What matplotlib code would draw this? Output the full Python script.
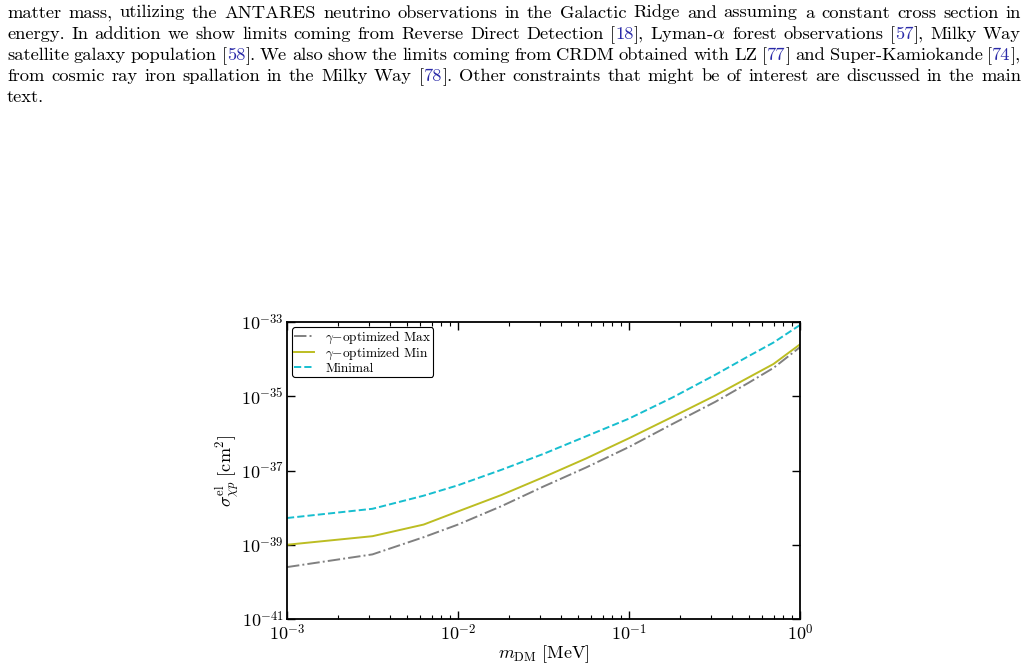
import matplotlib
matplotlib.use('Agg')
import matplotlib.pyplot as plt
from matplotlib.ticker import FixedLocator, FuncFormatter, LogLocator, NullLocator
import numpy as np

plt.rcParams['mathtext.fontset'] = 'cm'
plt.rcParams['font.family'] = ['cmr10', 'DejaVu Serif']
plt.rcParams['axes.unicode_minus'] = False

# ---------------- data ----------------
m_dm = [1e-3, 3.16e-3, 6.3e-3, 1e-2, 1.8e-2, 3.16e-2, 5.6e-2, 0.1, 0.18, 0.32, 0.5, 0.7, 1.0]
sigma_gamma_max = [2.5e-40, 5.5e-40, 1.6e-39, 3.5e-39, 1.1e-38, 3.7e-38, 1.2e-37,
                   4.3e-37, 1.8e-36, 7.1e-36, 2.3e-35, 5.8e-35, 2.1e-34]
sigma_gamma_min = [1.0e-39, 1.7e-39, 3.5e-39, 7.9e-39, 2.2e-38, 6.6e-38, 2.1e-37,
                   7.4e-37, 2.8e-36, 1.05e-35, 3.2e-35, 7.4e-35, 2.5e-34]
sigma_minimal = [5.25e-39, 9.3e-39, 2.1e-38, 4.0e-38, 1.05e-37, 2.8e-37, 8.3e-37,
                 2.5e-36, 9.3e-36, 3.8e-35, 1.2e-34, 2.8e-34, 8.3e-34]
series_labels = [r'$\gamma{-}$optimized Max', r'$\gamma{-}$optimized Min', 'Minimal']
series_colors = ['#808080', '#bcbd22', '#17becf']
series_styles = ['-.', '-', '--']

y_ticks = [1e-41, 1e-39, 1e-37, 1e-35, 1e-33]
x_ticks = [1e-3, 1e-2, 1e-1, 1e0]

caption_lines = [
    [("matter mass, utilizing the ANTARES neutrino observations in the Galactic Ridge and assuming a constant cross section in", 'k')],
    [("energy. In addition we show limits coming from Reverse Direct Detection [", 'k'), ("18", 'b'), ("], Lyman-$\\alpha$ forest observations [", 'k'), ("57", 'b'), ("], Milky Way", 'k')],
    [("satellite galaxy population [", 'k'), ("58", 'b'), ("]. We also show the limits coming from CRDM obtained with LZ [", 'k'), ("77", 'b'), ("] and Super-Kamiokande [", 'k'), ("74", 'b'), ("],", 'k')],
    [("from cosmic ray iron spallation in the Milky Way [", 'k'), ("78", 'b'), ("]. Other constraints that might be of interest are discussed in the main", 'k')],
    [("text.", 'k')],
]

W, H = 1027, 669
fig = plt.figure(figsize=(W / 100, H / 100), dpi=100)
fig.patch.set_facecolor('white')

# ---------------- caption (justified) ----------------
blue = '#2a2aa8'
def split_words(segments):
    words = [[]]
    for txt, col in segments:
        parts = txt.split(' ')
        for i, p in enumerate(parts):
            if i > 0:
                words.append([])
            if p:
                words[-1].append((p, col))
    return [w for w in words if w]

renderer = fig.canvas.get_renderer()
left_px, right_px = 7, 1021
baselines = [17.5, 39, 60.2, 81.3, 102.3]
cap_size = 13.3
for li, segs in enumerate(caption_lines):
    words = split_words(segs)
    objs = []
    widths = []
    for w in words:
        wobjs = []
        ww = 0
        for txt, col in w:
            t = fig.text(0, 0, txt, fontsize=cap_size, color=(blue if col == 'b' else 'black'),
                         va='baseline', ha='left', family=['cmr10', 'DejaVu Serif'])
            bb = t.get_window_extent(renderer)
            wobjs.append((t, bb.width))
            ww += bb.width
        objs.append(wobjs)
        widths.append(ww)
    last = (li == len(caption_lines) - 1)
    if last or len(words) < 2:
        gap = 6
    else:
        gap = (right_px - left_px - sum(widths)) / (len(words) - 1)
    x = left_px
    ypix = H - baselines[li]
    for wobjs, ww in zip(objs, widths):
        xx = x
        for t, tw in wobjs:
            t.set_position((xx / W, ypix / H))
            xx += tw
        x += ww + gap

# ---------------- plot ----------------
ax = fig.add_axes([287 / W, 1 - 619 / H, 513 / W, 297 / H])
for ys, lab, col, ls in zip([sigma_gamma_max, sigma_gamma_min, sigma_minimal],
                            series_labels, series_colors, series_styles):
    ax.plot(m_dm, ys, ls, color=col, lw=1.4, label=lab)

ax.set_xscale('log')
ax.set_yscale('log')
ax.set_xlim(1e-3, 1e0)
ax.set_ylim(1e-41, 1e-33)
ax.yaxis.set_major_locator(FixedLocator(y_ticks))
ax.yaxis.set_minor_locator(NullLocator())
ax.xaxis.set_major_locator(FixedLocator(x_ticks))
ax.xaxis.set_minor_locator(LogLocator(base=10, subs=np.arange(2, 10), numticks=20))
fmt = FuncFormatter(lambda v, p: r'$10^{%d}$' % int(round(np.log10(v))))
ax.xaxis.set_major_formatter(fmt)
ax.yaxis.set_major_formatter(fmt)
ax.tick_params(which='both', direction='in', top=True, right=True, colors='black')
ax.tick_params(which='major', length=6, width=1.0, labelsize=13, pad=3)
ax.tick_params(which='minor', length=3, width=0.8)
ax.tick_params(axis='y', which='major', pad=2)
for s in ax.spines.values():
    s.set_linewidth(1.3)

ax.set_xlabel(r'$m_{\rm DM}\ [{\rm MeV}]$', fontsize=13, labelpad=0)
ax.set_ylabel(r'$\sigma^{\rm el}_{\chi p}\ [{\rm cm}^2]$', fontsize=13, labelpad=0)

leg = ax.legend(loc='upper left', fontsize=9.6, handlelength=1.5, frameon=True,
                fancybox=True, borderpad=0.15, labelspacing=0.02, handletextpad=0.8,
                borderaxespad=0.4)
leg.get_frame().set_edgecolor('black')
leg.get_frame().set_linewidth(0.8)
leg.get_frame().set_alpha(1)

fig.savefig('out.png', dpi=100)
